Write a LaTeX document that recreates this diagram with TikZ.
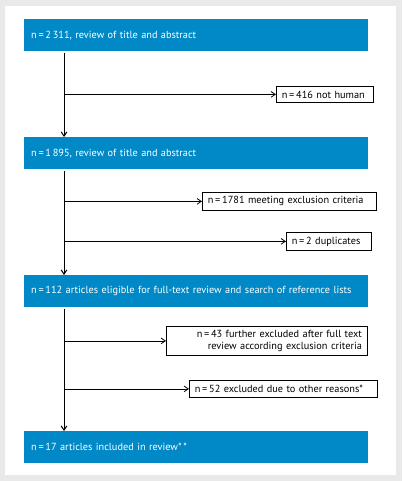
\documentclass[tikz,border=0pt]{standalone}
\usepackage{fontspec}
\setmainfont{PT Sans}
\usetikzlibrary{positioning}
\usetikzlibrary {arrows.meta}
\definecolor{flowblue}{RGB}{0,137,198}
\definecolor{framegray}{RGB}{233,233,233}
\tikzset{stage/.style={rectangle,draw=none,fill=flowblue,text=white,anchor=north west,
inner xsep=7pt,inner ysep=0pt,minimum height=32pt, text width=330pt,align=left,
font=\fontsize{10.3}{11.7}\selectfont}}
\tikzset{exclbox/.style={rectangle,draw=black,line width=0.8pt,fill=white,anchor=north west,
inner xsep=5.5pt,inner ysep=0pt,align=left,font=\fontsize{10.3}{11.7}\selectfont}}
\tikzset{spineline/.style={line width=1pt,shorten <=2pt,-{Straight Barb[length=1.5mm,width=2mm]}}}
\tikzset{branch/.style={line width=0.8pt,-{Straight Barb[length=1.5mm,width=2mm]}}}

\begin{document}
\begin{tikzpicture}[x=1pt,y=1pt]
        \useasboundingbox (0,0) rectangle (402,-481);
        \fill[framegray] (0,0) rectangle (402,-481);
        \fill[white] (5,-6) rectangle (396,-475);

        \coordinate (spine) at (64,0);

        \node[stage] (screenA) at (24,-19) {n\,=\,2\,311, review of title and abstract};
        \node[stage] (screenB) at (24,-137) {n\,=\,1\,895, review of title and abstract};
        \node[stage] (fulltext) at (24,-275) {n\,=\,112 articles eligible for full-text review and search of reference lists};
        \node[stage] (included) at (24,-431) {n\,=\,17 articles included in review*\,*};

        \node[exclbox,minimum height=16pt,text width=86pt] (nothuman) at (276,-86) {n\,=\,416 not human};
        \node[exclbox,minimum height=18pt,text width=163pt] (criteria) at (202,-192) {n\,=\,1781 meeting exclusion criteria};
        \node[exclbox,minimum height=18pt,text width=74pt] (dupl) at (286,-232) {n\,=\,2 duplicates};
        \node[exclbox,minimum height=29pt,text width=190pt,align=right] (fullexcl) at (166,-326) {n\,=\,43 further excluded after full text\\review according exclusion criteria};
        \node[exclbox,minimum height=17pt,text width=177pt] (other) at (189,-380) {n\,=\,52 excluded due to other reasons*};

        \draw[spineline] (screenA.south -| spine) -- (screenB.north -| spine);
        \draw[spineline] (screenB.south -| spine) -- (fulltext.north -| spine);
        \draw[spineline] (fulltext.south -| spine) -- (included.north -| spine);

        \draw[branch] (nothuman.west -| spine) -- (nothuman.west);
        \draw[branch] (criteria.west -| spine) -- (criteria.west);
        \draw[branch] (dupl.west -| spine) -- (dupl.west);
        \draw[branch] (fullexcl.west -| spine) -- (fullexcl.west);
        \draw[branch] (other.west -| spine) -- (other.west);
\end{tikzpicture}
\end{document}
